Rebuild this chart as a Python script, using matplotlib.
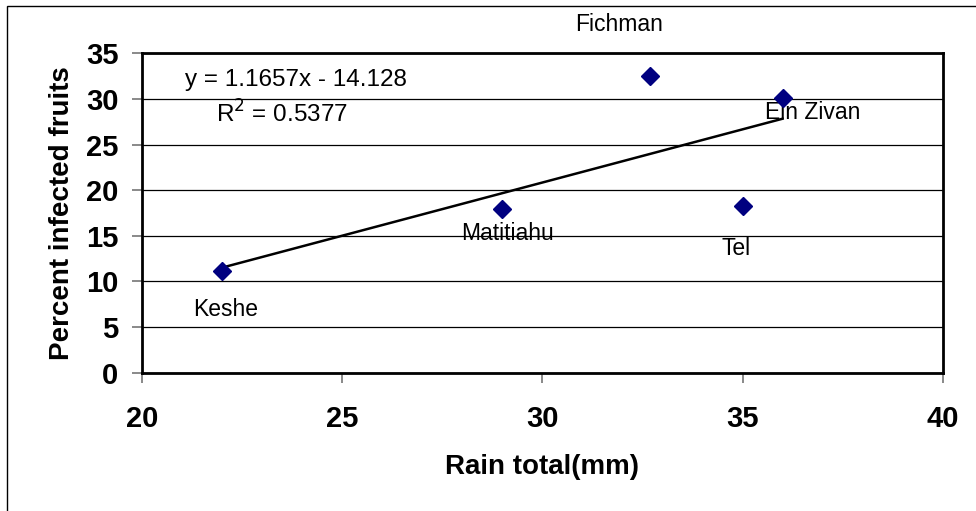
import numpy as np
import matplotlib
matplotlib.use("Agg")
import matplotlib.pyplot as plt
from matplotlib.patches import Rectangle

plt.rcParams["font.family"] = ["Liberation Sans", "DejaVu Sans"]

# --- Data ---
sites = ["Keshe", "Matitiahu", "Fichman", "Ein Zivan", "Tel"]
rain_total = [22.0, 29.0, 32.7, 36.0, 35.0]
pct_infected = [11.1, 17.9, 32.5, 30.1, 18.3]
# label offsets (pixels) relative to each point, as placed in the original
label_offsets = [(4, -38), (5, -24), (-31, 52), (30, -14), (-6, -43)]

slope, intercept = 1.1657, -14.128
r_squared = 0.5377

x_ticks = [20, 25, 30, 35, 40]
y_ticks = [0, 5, 10, 15, 20, 25, 30, 35]

fig = plt.figure(figsize=(9.76, 5.11), dpi=100)
ax = fig.add_axes([0.1455, 0.2706, 0.8204, 0.6250])

# outer chart frame (only top/left edges are visible in the reference)
fig.patches.append(
    Rectangle((7 / 976, -0.1), 1.2, 1.1 - 6 / 511, transform=fig.transFigure,
              fill=False, edgecolor="black", linewidth=1.0)
)

ax.set_xlim(20, 40)
ax.set_ylim(0, 35)
ax.set_xticks(x_ticks)
ax.set_yticks(y_ticks)
ax.grid(axis="y", color="black", linewidth=0.9)
ax.set_axisbelow(True)

for side in ax.spines.values():
    side.set_linewidth(2.0)
    side.set_color("black")

ax.tick_params(axis="x", length=7, width=1.3, color="gray", pad=16,
               labelsize=21)
ax.tick_params(axis="y", length=7, width=1.3, color="gray", pad=10,
               labelsize=21)
for lbl in ax.get_xticklabels() + ax.get_yticklabels():
    lbl.set_fontweight("bold")

# trendline over the range of the data
xs = np.array([min(rain_total), max(rain_total)])
ax.plot(xs, slope * xs + intercept, color="black", linewidth=1.8, zorder=3)

ax.plot(rain_total, pct_infected, linestyle="none", marker="D",
        markersize=9, color="#000080", zorder=4)

for name, x, y, off in zip(sites, rain_total, pct_infected, label_offsets):
    ax.annotate(name, (x, y), xytext=off, textcoords="offset pixels",
                ha="center", va="center", fontsize=16.5, annotation_clip=False)

ax.text(0.192, 0.915, f"y = {slope}x - {abs(intercept)}", transform=ax.transAxes,
        ha="center", va="center", fontsize=17.5)
ax.text(0.175, 0.81, f"R$^2$ = {r_squared}", transform=ax.transAxes,
        ha="center", va="center", fontsize=17.5)

ax.set_xlabel("Rain total(mm)", fontsize=20, fontweight="bold")
ax.set_ylabel("Percent infected fruits", fontsize=20, fontweight="bold")
ax.xaxis.set_label_coords(0.5, -0.295)
ax.xaxis.label.set_va("center")
ax.yaxis.set_label_coords(-0.10, 0.5)
ax.yaxis.label.set_va("center")

fig.savefig("out.png", dpi=100)
